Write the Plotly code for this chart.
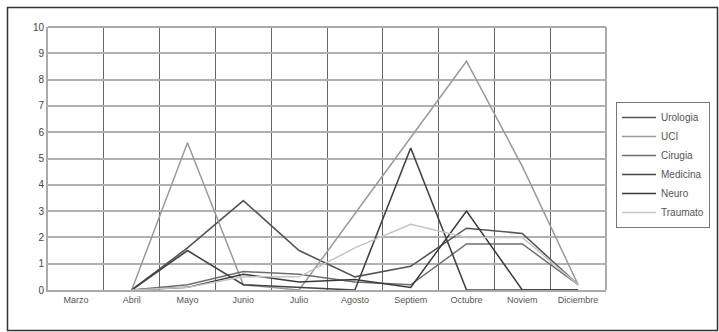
import plotly.graph_objects as go

months = ["Marzo", "Abril", "Mayo", "Junio", "Julio", "Agosto", "Septiem", "Octubre", "Noviem", "Diciembre"]

urologia = [None, 0, 1.6, 3.4, 1.5, 0.5, 0.9, 2.35, 2.15, 0.2]
uci      = [None, 0, 5.6, 0.2, 0.0, 2.9, 5.8, 8.7, 4.7, 0.2]
cirugia  = [None, 0, 0.2, 0.7, 0.6, 0.3, 0.2, 1.75, 1.75, 0.2]
medicina = [None, 0, 1.5, 0.2, 0.1, 0.0, 5.4, 0.0, 0.0, 0.0]
neuro    = [None, 0, 0.1, 0.6, 0.3, 0.4, 0.1, 3.0, 0.0, 0.0]
traumato = [None, 0, 0.1, 0.5, 0.5, 1.6, 2.5, 2.0, 2.0, 0.2]

series = [
    ("Urologia", urologia, "#555555", 1.6),
    ("UCI", uci, "#9a9a9a", 1.5),
    ("Cirugia", cirugia, "#6e6e6e", 1.5),
    ("Medicina", medicina, "#444444", 1.6),
    ("Neuro", neuro, "#3a3a3a", 1.5),
    ("Traumato", traumato, "#c4c4c4", 1.5),
]

fig = go.Figure()
for name, vals, color, w in series:
    fig.add_trace(go.Scatter(x=months, y=vals, name=name, mode="lines",
                             line=dict(color=color, width=w)))

FW, FH = 719, 332
PL, PR, PT, PB = 48, 606, 27, 290  # plot area in page pixels
W, H = PR - PL, PB - PT

def px(x):
    return (x - PL) / W

def py(y):
    return (PB - y) / H

fig.update_layout(
    width=FW, height=FH,
    margin=dict(l=PL, r=FW - PR, t=PT, b=FH - PB, autoexpand=False),
    paper_bgcolor="white", plot_bgcolor="white",
    font=dict(family="Liberation Sans, Arial, sans-serif", size=9, color="#444444"),
    showlegend=True,
    legend=dict(x=px(616), y=py(102), xanchor="left", yanchor="top",
                bgcolor="white", bordercolor="#777777", borderwidth=1,
                font=dict(size=10, color="#555555"), tracegroupgap=0,
                itemwidth=34),
    xaxis=dict(type="category", range=[-0.5, 9.5], tickson="boundaries",
               showgrid=True, gridcolor="#666666", gridwidth=1,
               ticks="", showline=True, linecolor="#aaaaaa", linewidth=2,
               tickfont=dict(size=9, color="#555555"), fixedrange=True),
    yaxis=dict(range=[0, 10], dtick=1, showgrid=True, gridcolor="#b0b0b0", gridwidth=2,
               showline=True, linecolor="#aaaaaa", linewidth=2, zeroline=False,
               ticks="", tickfont=dict(size=10, color="#444444"),
               mirror=False),
    shapes=[
        dict(type="rect", xref="paper", yref="paper",
             x0=px(7.5), x1=px(717.5), y0=py(330.5), y1=py(7.5),
             line=dict(color="#333333", width=1.5), layer="below"),
        dict(type="line", xref="paper", yref="paper",
             x0=1, x1=1, y0=0, y1=1, line=dict(color="#aaaaaa", width=2)),
        dict(type="line", xref="paper", yref="paper",
             x0=0, x1=1, y0=1, y1=1, line=dict(color="#aaaaaa", width=2)),
    ],
)

fig.write_html("out.html", config={"displayModeBar": False},
               post_script="document.body.style.margin='0';document.body.style.overflow='hidden';")
